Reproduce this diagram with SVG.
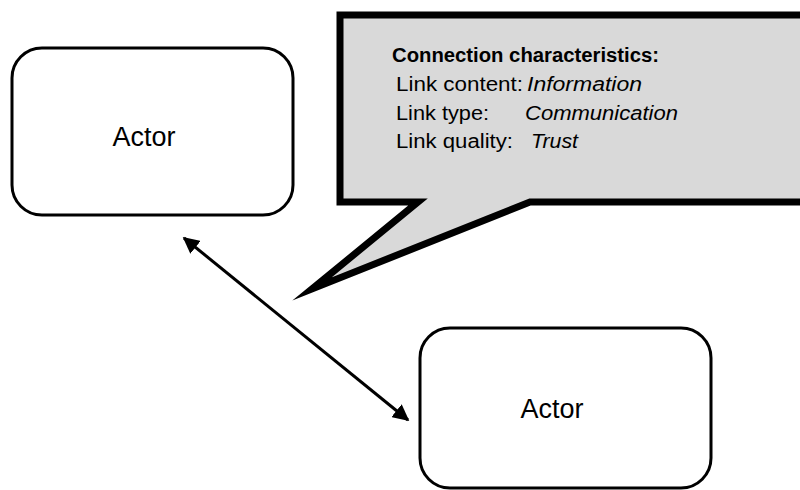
<svg xmlns="http://www.w3.org/2000/svg" width="800" height="490" viewBox="0 0 800 490">
<style>
.box{fill:#fff;stroke:#000;stroke-width:3}
.lbl{font-family:"Liberation Sans",Arial,sans-serif;font-size:27px;fill:#000}
.t{font-family:"Liberation Sans",Arial,sans-serif;font-size:20px;fill:#000}
.b{font-weight:bold}
.i{font-style:italic}
.callout{fill:#d9d9d9;stroke:#000;stroke-width:7;stroke-linejoin:miter;stroke-miterlimit:20}
.conn{stroke:#000;stroke-width:3;fill:none}
</style>
<defs>
<marker id="ah" viewBox="0 0 10 10" refX="9" refY="5" markerWidth="5.5" markerHeight="5.5" orient="auto-start-reverse" markerUnits="strokeWidth">
<path d="M0,0 L10,5 L0,10 z" fill="#000"/>
</marker>
</defs>
<g id="callout">
<path class="callout" d="M340,15 L806,15 L806,202 L530,202 L312,289 L418,202 L340,202 Z"/>
<text class="t b" x="392" y="62" textLength="267" lengthAdjust="spacingAndGlyphs">Connection characteristics:</text>
<text class="t" x="396" y="91" textLength="127" lengthAdjust="spacingAndGlyphs">Link content:</text>
<text class="t i" x="527" y="91" textLength="115" lengthAdjust="spacingAndGlyphs">Information</text>
<text class="t" x="396" y="120" textLength="93" lengthAdjust="spacingAndGlyphs">Link type:</text>
<text class="t i" x="525" y="120" textLength="153" lengthAdjust="spacingAndGlyphs">Communication</text>
<text class="t" x="396" y="148" textLength="117" lengthAdjust="spacingAndGlyphs">Link quality:</text>
<text class="t i" x="531" y="148" textLength="47" lengthAdjust="spacingAndGlyphs">Trust</text>
</g>
<g id="actor1">
<rect class="box" x="12" y="48" width="281" height="167" rx="30" ry="30"/>
<text class="lbl" x="144" y="146" text-anchor="middle">Actor</text>
</g>
<g id="actor2">
<rect class="box" x="420" y="328" width="291" height="160" rx="30" ry="30"/>
<text class="lbl" x="552" y="418" text-anchor="middle">Actor</text>
</g>
<g id="connectors">
<line class="conn" x1="184" y1="238" x2="408" y2="420" marker-start="url(#ah)" marker-end="url(#ah)"/>
</g>
</svg>
